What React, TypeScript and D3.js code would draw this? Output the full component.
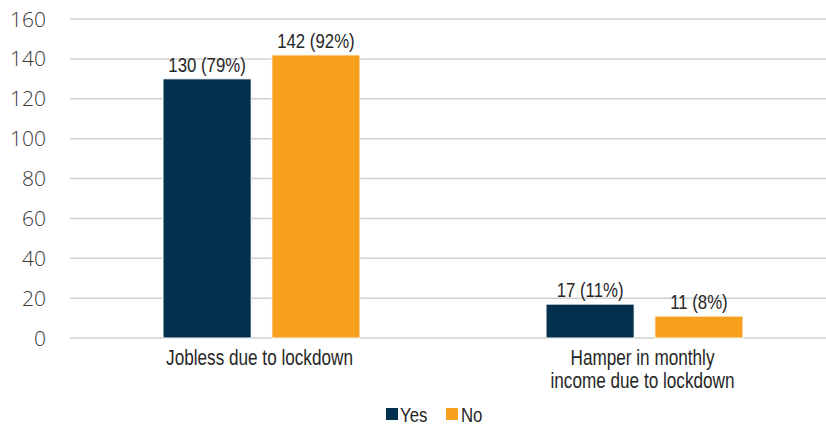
import React from "react";
import * as d3 from "d3";

const categories: string[][] = [["Jobless due to lockdown"], ["Hamper in monthly", "income due to lockdown"]];
const seriesNames = ["Yes", "No"];
const yesValues = [130, 17];
const noValues = [142, 11];
const yesLabels = ["130 (79%)", "17 (11%)"];
const noLabels = ["142 (92%)", "11 (8%)"];
const yTicks = [0, 20, 40, 60, 80, 100, 120, 140, 160];
const colors = ["#04304F", "#F7A01E"];

const W = 826;
const H = 428;
const font = "'Liberation Sans', Arial, sans-serif";

function CText(props: {
  x: number;
  y: number;
  size: number;
  sx: number;
  anchor?: string;
  children: React.ReactNode;
}) {
  return (
    <text
      transform={`translate(${props.x},${props.y}) scale(${props.sx},1)`}
      textAnchor={props.anchor || "middle"}
      fontFamily={font}
      fontSize={props.size}
      fill="#262626"
    >
      {props.children}
    </text>
  );
}

export default function App() {
  const y = d3.scaleLinear().domain([0, 160]).range([338, 19]);
  const x0 = d3.scaleBand<number>().domain([0, 1]).range([70, 836]).padding(0);
  const x1 = d3
    .scaleBand<string>()
    .domain(seriesNames)
    .range([93, x0.bandwidth() - 93])
    .paddingInner(0.19)
    .paddingOuter(0);
  const series = [yesValues, noValues];
  const labels = [yesLabels, noLabels];

  return (
    <svg width={W} height={H} style={{ position: "absolute", left: 0, top: 0 }}>
      <rect width={W} height={H} fill="#fff" />
      {yTicks.map((t) => (
        <g key={t}>
          <line x1={70} x2={W} y1={y(t)} y2={y(t)} stroke="#d0d0d0" strokeWidth={1.5} />
          <text
            x={46}
            y={y(t)}
            dy="0.36em"
            textAnchor="end"
            fontFamily="'Open Sans', sans-serif"
            fontWeight={300}
            fontSize={21}
            fill="#3a3a3a"
          >
            {t}
          </text>
        </g>
      ))}
      {[0, 1].map((ci) => (
        <g key={ci} transform={`translate(${x0(ci)},0)`}>
          {seriesNames.map((s, si) => {
            const v = series[si][ci];
            const bx = x1(s)!;
            return (
              <g key={s}>
                <rect
                  x={bx}
                  y={y(v)}
                  width={x1.bandwidth()}
                  height={y(0) - y(v)}
                  fill={colors[si]}
                  stroke="#ffffff"
                  strokeWidth={1}
                />
                <CText x={bx + x1.bandwidth() / 2} y={y(v) - 7} size={21} sx={0.8}>
                  {labels[si][ci]}
                </CText>
              </g>
            );
          })}
          {categories[ci].map((line, li) => (
            <CText key={li} x={x0.bandwidth() / 2 - 2} y={365 + li * 23} size={22} sx={0.78}>
              {line}
            </CText>
          ))}
        </g>
      ))}
      <g>
        <rect x={386} y={408} width={12} height={12} fill={colors[0]} />
        <CText x={400} y={422} size={21} sx={0.8} anchor="start">
          Yes
        </CText>
        <rect x={446} y={408} width={12} height={12} fill={colors[1]} />
        <CText x={461} y={422} size={21} sx={0.8} anchor="start">
          No
        </CText>
      </g>
    </svg>
  );
}
